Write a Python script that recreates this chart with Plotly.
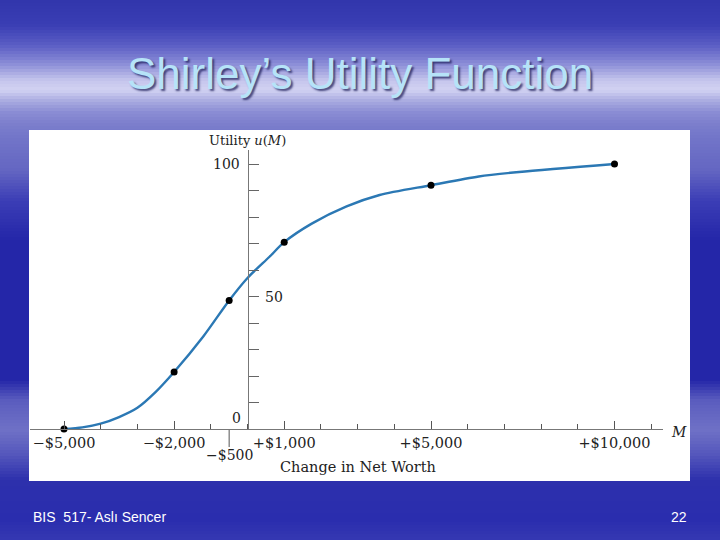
import plotly.graph_objects as go

# ---- data ----
key_m = [-5000, -2000, -500, 1000, 5000, 10000]          # change in net worth ($)
key_u = [0, 21.5, 48.5, 70.5, 92, 100]                   # utility at marked points

curve_m = [-5000, -4500, -4000, -3500, -3000, -2500, -2000, -1200, -500, 0, 600, 1000,
           1750, 2700, 3600, 5000, 6300, 7400, 10000]
curve_u = [0, 0.6, 2.0, 4.5, 8, 14, 21.5, 35, 48.5, 57, 65, 70.5,
           77.5, 84, 88.3, 92, 95.3, 97, 100]

x_tick_vals = [-5000, -2000, 1000, 5000, 10000]
x_tick_text = ["\u2212$5,000", "\u2212$2,000", "+$1,000", "+$5,000", "+$10,000"]
x_extra_tick = -500
x_extra_text = "\u2212$500"
y_label_vals = [0, 50, 100]

W, H = 720, 540

def py(p):  # pixel-from-top -> paper
    return 1 - p / H

fig = go.Figure()

fig.add_trace(go.Scatter(x=curve_m, y=curve_u, mode="lines",
                         line=dict(color="#2b78b4", width=2.4, shape="spline", smoothing=0.8),
                         cliponaxis=False, hoverinfo="skip", showlegend=False))
fig.add_trace(go.Scatter(x=key_m, y=key_u, mode="markers",
                         marker=dict(color="black", size=7),
                         cliponaxis=False, showlegend=False))

# ---- background gradient bands ----
stops = [(0, "#3135ac"), (25, "#3a3eb4"), (45, "#5a5dc4"), (65, "#8e90d8"),
         (80, "#c4c4ec"), (90, "#d2d2f2"), (100, "#acaee2"), (112, "#8b8dd4"),
         (125, "#7b7dcc"), (140, "#7174c8"), (170, "#6466c2"), (200, "#3c3eb6"),
         (240, "#2426a8"), (380, "#2426a8"), (400, "#5a5cbe"), (430, "#6f71c6"),
         (455, "#5456bc"), (480, "#2d30ac"), (520, "#2a2dae"), (540, "#3538b2")]

def hex2rgb(h):
    h = h.lstrip("#")
    return tuple(int(h[i:i + 2], 16) for i in (0, 2, 4))

def color_at(p):
    for (p0, c0), (p1, c1) in zip(stops[:-1], stops[1:]):
        if p0 <= p <= p1:
            t = (p - p0) / (p1 - p0) if p1 > p0 else 0
            a, b = hex2rgb(c0), hex2rgb(c1)
            return "rgb(%d,%d,%d)" % tuple(round(a[i] + (b[i] - a[i]) * t) for i in range(3))
    return stops[-1][1]

shapes = []
step = 3
for p in range(0, H, step):
    shapes.append(dict(type="rect", xref="paper", yref="paper", x0=0, x1=1,
                       y0=py(p + step), y1=py(p), fillcolor=color_at(p + step / 2),
                       line=dict(width=0), layer="below"))
# white picture panel
shapes.append(dict(type="rect", xref="paper", yref="paper", x0=29 / W, x1=690 / W,
                   y0=py(481), y1=py(130), fillcolor="white", line=dict(width=0), layer="below"))
# downward tick under the axis for -$500
shapes.append(dict(type="line", xref="x", yref="paper", x0=x_extra_tick, x1=x_extra_tick,
                   y0=py(447), y1=py(430), line=dict(color="#555555", width=1)))

serif = "DejaVu Serif"
ink = "#222222"
annotations = [
    dict(text="Shirley\u2019s Utility Function", x=0.5, y=py(73), xref="paper", yref="paper",
         showarrow=False, xanchor="center", yanchor="middle",
         font=dict(family="Liberation Sans, Arial", size=44, color="#b6e3f8",
                   shadow="2px 2px 2px rgba(30,30,90,0.75)")),
    dict(text="BIS  517- Asl\u0131 Sencer", x=31 / W, y=py(517), xref="paper", yref="paper",
         showarrow=False, xanchor="left", yanchor="middle",
         font=dict(family="Liberation Sans, Arial", size=14, color="white")),
    dict(text="22", x=689 / W, y=py(517), xref="paper", yref="paper",
         showarrow=False, xanchor="right", yanchor="middle",
         font=dict(family="Liberation Sans, Arial", size=14, color="white")),
    dict(text="Utility <i>u</i>(<i>M</i>)", x=0, y=py(141), xref="x", yref="paper",
         showarrow=False, xanchor="center", yanchor="middle",
         font=dict(family=serif, size=13, color=ink)),
    dict(text="Change in Net Worth", x=358 / W, y=py(467), xref="paper", yref="paper",
         showarrow=False, xanchor="center", yanchor="middle",
         font=dict(family=serif, size=14.5, color=ink)),
    dict(text="<i>M</i>", x=1, y=py(432), xref="x domain", yref="paper",
         showarrow=False, xanchor="left", yanchor="middle", xshift=6,
         font=dict(family=serif, size=14, color=ink)),
    dict(text=x_extra_text, x=x_extra_tick, y=py(455), xref="x", yref="paper",
         showarrow=False, xanchor="center", yanchor="middle",
         font=dict(family=serif, size=14, color=ink)),
    dict(text=str(y_label_vals[2]), x=0, y=y_label_vals[2], xref="x", yref="y",
         showarrow=False, xanchor="right", yanchor="middle", xshift=-6,
         font=dict(family=serif, size=14, color=ink)),
    dict(text=str(y_label_vals[1]), x=0, y=y_label_vals[1], xref="x", yref="y",
         showarrow=False, xanchor="left", yanchor="middle", xshift=15,
         font=dict(family=serif, size=14, color=ink)),
    dict(text=str(y_label_vals[0]), x=0, y=y_label_vals[0], xref="x", yref="y",
         showarrow=False, xanchor="right", yanchor="middle", xshift=-5, yshift=11,
         font=dict(family=serif, size=14, color=ink)),
]

x_left_px, x_right_px, x_zero_px = 30, 663, 247.5
px_per_dollar = 0.0367
xmin = -(x_zero_px - x_left_px) / px_per_dollar
xmax = (x_right_px - x_zero_px) / px_per_dollar
y_base_px, y_top_px, px_per_unit = 429, 150, 2.65

fig.update_layout(
    width=W, height=H, margin=dict(l=0, r=0, t=0, b=0),
    paper_bgcolor="#2a2dae", plot_bgcolor="rgba(0,0,0,0)",
    shapes=shapes, annotations=annotations, showlegend=False,
    xaxis=dict(domain=[x_left_px / W, x_right_px / W], range=[xmin, xmax],
               showgrid=False, zeroline=False, showline=True, linecolor="#777777", linewidth=1.2,
               ticks="inside", ticklen=8, tickcolor="#555555", tickwidth=1,
               tickvals=x_tick_vals, ticktext=x_tick_text,
               minor=dict(ticks="inside", dtick=1000, tick0=0, ticklen=5,
                          tickcolor="#555555", tickwidth=1),
               tickfont=dict(family=serif, size=14.5, color=ink),
               fixedrange=True),
    yaxis=dict(domain=[py(y_base_px), py(y_top_px)],
               range=[0, (y_base_px - y_top_px) / px_per_unit],
               anchor="free", position=x_zero_px / W, side="left",
               showgrid=False, zeroline=False, showline=True, linecolor="#777777", linewidth=1.2,
               ticks="inside", ticklen=10, tickcolor="#666666",
               tickvals=list(range(10, 101, 10)), showticklabels=False,
               fixedrange=True),
)

fig.write_html("out.html", config={"displayModeBar": False},
               post_script="document.body.style.margin='0';document.body.style.overflow='hidden';")
